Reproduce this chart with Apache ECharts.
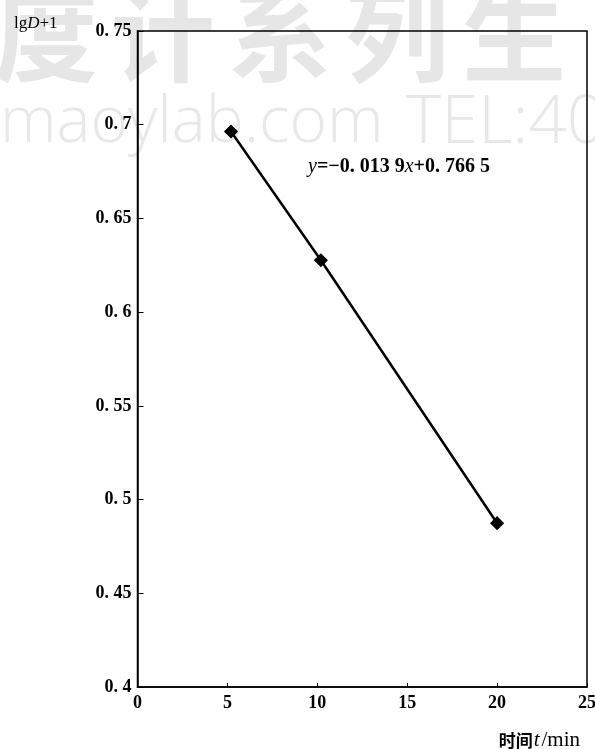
<!DOCTYPE html>
<html lang="zh">
<head>
    <meta charset="UTF-8">
    <title>lgD+1</title>
    <script src="https://fastly.jsdelivr.net/npm/echarts@6/dist/echarts.min.js"></script>
</head>
<body style="margin:0;background:#fff;">
    <div id="dv" style="width:595px;height:749px;"></div>
</body>
<script>
   // data
   var times = [5.2, 10.2, 20]
   var lgD = [0.6964, 0.6277, 0.4874]
   var xTicks = [0, 5, 10, 15, 20, 25]
   var yTicks = [0.4, 0.45, 0.5, 0.55, 0.6, 0.65, 0.7, 0.75]

   var serif = '"Liberation Serif", "DejaVu Serif", serif'
   var dv = document.getElementById('dv')
   var myChart = echarts.init(dv)

   function fmt(v) {
      // labels are printed like "0. 75"
      return String(+v.toFixed(2)).replace('.', '. ')
   }

   // faint watermark behind the plot
   var wmChars = ['度', '计', '系', '列', '生']
   var watermark = wmChars.map(function (c, i) {
      return {
         type: 'text',
         left: -6 + i * 117,
         top: -18,
         silent: true,
         z: -10,
         style: { text: c, font: 'bold 104px "Noto Sans CJK SC"', fill: '#e6e6e6' }
      }
   })
   watermark.push({
      type: 'text',
      left: 0,
      top: 92,
      silent: true,
      z: -10,
      style: { text: 'maoylab.com', font: '300 64px "Open Sans", sans-serif', fill: '#e8e8e8' }
   }, {
      type: 'text',
      left: 406,
      top: 90,
      silent: true,
      z: -10,
      style: { text: 'TEL:400', font: '300 67px "Open Sans", sans-serif', fill: '#e8e8e8' }
   })

   var option = {
      backgroundColor: '#fff',
      animation: false,
      grid: {
         left: 137.5,
         top: 31,
         right: 8,
         bottom: 62,
         outerBoundsMode: 'none',
         containLabel: false,
         show: true,
         borderColor: '#000',
         borderWidth: 1.5
      },
      xAxis: {
         type: 'value',
         min: xTicks[0],
         max: xTicks[xTicks.length - 1],
         interval: 5,
         axisLine: { lineStyle: { color: '#000', width: 1.5 } },
         axisTick: { inside: true, length: 4, lineStyle: { color: '#000' } },
         splitLine: { show: false },
         axisLabel: {
            color: '#000',
            fontFamily: serif,
            fontWeight: 'bold',
            fontSize: 18,
            margin: 7
         },
         name: '{a|时间}{b|t}{c|/min}',
         nameLocation: 'end',
         nameGap: -7,
         nameTextStyle: {
            align: 'right',
            verticalAlign: 'top',
            padding: [43, 0, 0, 0],
            rich: {
               a: { fontFamily: '"Noto Sans CJK SC", sans-serif', fontWeight: 'bold', fontSize: 17, color: '#000' },
               b: { fontFamily: serif, fontStyle: 'italic', fontSize: 21, color: '#000', padding: [0, 2, 0, 1] },
               c: { fontFamily: serif, fontSize: 21, color: '#000' }
            }
         }
      },
      yAxis: {
         type: 'value',
         min: yTicks[0],
         max: yTicks[yTicks.length - 1],
         interval: 0.05,
         axisLine: { show: true, lineStyle: { color: '#000', width: 1.5 } },
         axisTick: { show: true, inside: true, length: 6, lineStyle: { color: '#000' } },
         splitLine: { show: false },
         axisLabel: {
            color: '#000',
            fontFamily: serif,
            fontWeight: 'bold',
            fontSize: 18,
            margin: 6,
            formatter: fmt
         },
         name: '{a|lg}{b|D}{a|+1}',
         nameLocation: 'end',
         nameGap: -1,
         nameTextStyle: {
            align: 'right',
            verticalAlign: 'bottom',
            padding: [0, 80, 0, 0],
            rich: {
               a: { fontFamily: serif, fontSize: 17, color: '#000' },
               b: { fontFamily: serif, fontStyle: 'italic', fontSize: 17, color: '#000' }
            }
         }
      },
      graphic: watermark.concat([{
         type: 'text',
         left: 308,
         top: 157,
         z: 10,
         style: {
            text: '{i|y}{n|=−0. 013 9}{i|x}{n|+0. 766 5}',
            rich: {
               i: { fontFamily: serif, fontStyle: 'italic', fontSize: 20, fill: '#000' },
               n: { fontFamily: serif, fontWeight: 'bold', fontSize: 20, fill: '#000' }
            }
         }
      }]),
      series: [{
         type: 'line',
         data: times.map(function (t, i) { return [t, lgD[i]] }),
         symbol: 'rect',
         symbolSize: 10,
         symbolRotate: 45,
         showAllSymbol: true,
         lineStyle: { color: '#000', width: 2.5 },
         itemStyle: { color: '#000', borderWidth: 0 },
         z: 5
      }]
   }
   myChart.setOption(option)
</script>
</html>
